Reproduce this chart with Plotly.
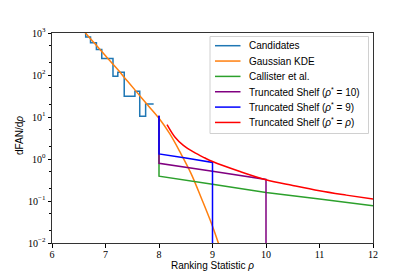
import plotly.graph_objects as go

# Candidates (step histogram)
cand_x = [6.63, 6.63, 6.72, 6.83, 6.93, 7.14, 7.23, 7.35, 7.55, 7.64, 7.75, 7.90]
cand_y = [1500, 803, 587, 406, 248, 94, 117, 31.4, 41.3, 10.4, 20.5, 20.5]

# Gaussian KDE
kde_x = [6.5, 6.6, 6.8, 7.0, 7.2, 7.4, 7.6, 7.8, 8.0, 8.2, 8.4, 8.6, 8.8, 9.0, 9.2]
kde_y = [1700, 1100, 562, 288, 148, 74, 37, 18.6, 9.3, 4.0, 1.41, 0.45, 0.11, 0.025, 0.0045]

# Callister et al.
call_x = [8.0, 8.0, 9.0, 10.0, 11.0, 12.0]
call_y = [10.5, 0.39, 0.25, 0.16, 0.111, 0.077]

# Truncated Shelf rho*=10
ts10_x = [8.0, 8.0, 9.0, 10.0, 10.0]
ts10_y = [10.5, 0.79, 0.51, 0.327, 0.001]

# Truncated Shelf rho*=9
ts9_x = [8.0, 8.0, 8.5, 9.0, 9.0]
ts9_y = [10.8, 1.32, 1.05, 0.83, 0.001]

# Truncated Shelf rho*=rho
tsr_x = [8.15, 8.3, 8.45, 8.65, 8.85, 9.0, 9.5, 10.0, 10.5, 11.0, 11.5, 12.0]
tsr_y = [6.6, 3.3, 2.14, 1.45, 1.07, 0.87, 0.51, 0.32, 0.234, 0.175, 0.138, 0.111]

x_ticks = [6, 7, 8, 9, 10, 11, 12]
y_ticks = [0.01, 0.1, 1, 10, 100, 1000]
y_tick_text = ["10<sup>−2</sup>", "10<sup>−1</sup>", "10<sup>0</sup>",
               "10<sup>1</sup>", "10<sup>2</sup>", "10<sup>3</sup>"]

series = [
    ("Candidates", "#1f77b4", cand_x, cand_y, "hv"),
    ("Gaussian KDE", "#ff7f0e", kde_x, kde_y, "spline"),
    ("Callister et al.", "#2ca02c", call_x, call_y, "linear"),
    ("Truncated Shelf (<i>ρ</i><sup>*</sup> = 10)", "purple", ts10_x, ts10_y, "linear"),
    ("Truncated Shelf (<i>ρ</i><sup>*</sup> = 9)", "blue", ts9_x, ts9_y, "linear"),
    ("Truncated Shelf (<i>ρ</i><sup>*</sup> = <i>ρ</i>)", "red", tsr_x, tsr_y, "spline"),
]

W = 1.5
serif = "Liberation Serif, DejaVu Serif, serif"
sans = "Liberation Sans, Arial, sans-serif"

fig = go.Figure()
for name, color, xs, ys, shape in series:
    fig.add_trace(go.Scatter(x=xs, y=ys, mode="lines", line_shape=shape,
                             line=dict(color=color, width=W), name=name,
                             showlegend=False))

# Figure geometry (pixels) for a matplotlib-like compact legend
FW, FH = 415, 277
ML, MR, MT, MB = 52, 42, 33, 34
PW, PH = FW - ML - MR, FH - MT - MB


def px(x):
    return (x - ML) / PW


def py(y):
    return 1 - (y - MT) / PH


shapes = [dict(type="rect", xref="paper", yref="paper", layer="above",
               x0=px(210), x1=px(368.5), y0=py(133.5), y1=py(36.5),
               fillcolor="rgba(255,255,255,0.85)",
               line=dict(color="#d0d0d0", width=1))]
annotations = []
for i, (name, color, _, _, _) in enumerate(series):
    yy = 45.7 + 15.35 * i
    shapes.append(dict(type="line", xref="paper", yref="paper", layer="above",
                       x0=px(215), x1=px(240.5), y0=py(yy), y1=py(yy),
                       line=dict(color=color, width=W)))
    annotations.append(dict(text=name, xref="paper", yref="paper",
                            x=px(247), y=py(yy), xanchor="left", yanchor="middle",
                            showarrow=False,
                            font=dict(family=sans, size=10, color="black")))

# y-axis title as a rotated annotation for exact placement
annotations.append(dict(text="dFAN/d<i>ρ</i>", xref="paper", yref="paper",
                        x=px(19), y=py(136), xanchor="center", yanchor="middle",
                        textangle=-90, showarrow=False,
                        font=dict(family=sans, size=10, color="black")))

fig.update_layout(
    width=FW, height=FH,
    margin=dict(l=ML, r=MR, t=MT, b=MB, autoexpand=False),
    paper_bgcolor="white", plot_bgcolor="white",
    showlegend=False,
    shapes=shapes, annotations=annotations,
    xaxis=dict(range=[6, 12], tickvals=x_ticks, ticks="outside", ticklen=3.5,
               tickcolor="black", showgrid=False, zeroline=False, automargin=False,
               showline=True, linecolor="#333", linewidth=1, mirror=True,
               ticklabelstandoff=-2,
               tickfont=dict(family=serif, size=10, color="black"),
               title=dict(text="Ranking Statistic <i>ρ</i>", standoff=1,
                          font=dict(family=sans, size=10, color="black"))),
    yaxis=dict(type="log", range=[-2, 3], tickvals=y_ticks, ticktext=y_tick_text,
               ticks="outside", ticklen=3.5, tickcolor="black", automargin=False,
               minor=dict(ticks="outside", ticklen=2, tickcolor="black", showgrid=False),
               showgrid=False, zeroline=False,
               showline=True, linecolor="#333", linewidth=1, mirror=True,
               tickfont=dict(family=serif, size=10, color="black")),
)

fig.write_html("out.html",
               config={"displayModeBar": False},
               post_script="document.body.style.margin='0';"
                           "document.body.style.overflow='hidden';")
